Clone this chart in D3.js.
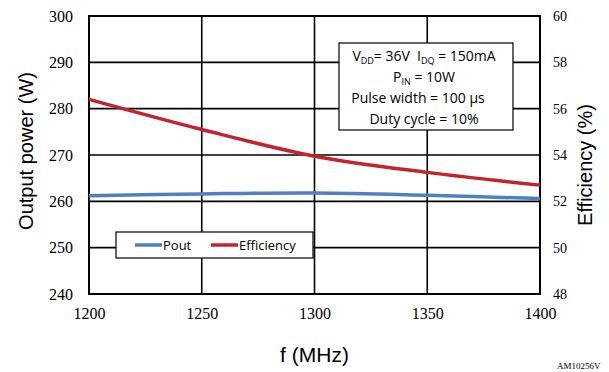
<!DOCTYPE html>
<html>
<head>
<meta charset="UTF-8">
<script src="https://d3js.org/d3.v7.min.js"></script>
<style>
  body { margin: 0; background: #fff; }
</style>
</head>
<body>
<div id="chart"></div>
<script>
// data
let freqs = [1200, 1250, 1300, 1350, 1400];
let pout = [261.2, 261.6, 261.8, 261.3, 260.6];
let efficiency = [56.4, 55.1, 53.95, 53.25, 52.7];
let leftTicks = [240, 250, 260, 270, 280, 290, 300];
let rightTicks = [48, 50, 52, 54, 56, 58, 60];
let xTicks = [1200, 1250, 1300, 1350, 1400];

let width = 609, height = 372;
let margin = { left: 89, right: 69, top: 16, bottom: 78 };

let svg = d3.select("#chart").append("svg")
  .attr("width", width)
  .attr("height", height);

let x = d3.scaleLinear().domain([1200, 1400]).range([margin.left, width - margin.right]);
let yL = d3.scaleLinear().domain([240, 300]).range([height - margin.bottom, margin.top]);
let yR = d3.scaleLinear().domain([48, 60]).range([height - margin.bottom, margin.top]);

// grid lines
svg.selectAll(".hgrid")
  .data(leftTicks)
  .join("line")
  .attr("x1", margin.left)
  .attr("x2", width - margin.right)
  .attr("y1", d => yL(d))
  .attr("y2", d => yL(d))
  .attr("stroke", "black")
  .attr("stroke-width", 1.6);

svg.selectAll(".vgrid")
  .data(xTicks)
  .join("line")
  .attr("x1", d => x(d))
  .attr("x2", d => x(d))
  .attr("y1", margin.top)
  .attr("y2", height - margin.bottom)
  .attr("stroke", "black")
  .attr("stroke-width", 1.6);

// plot border
svg.append("rect")
  .attr("x", margin.left)
  .attr("y", margin.top)
  .attr("width", width - margin.left - margin.right)
  .attr("height", height - margin.top - margin.bottom)
  .attr("fill", "none")
  .attr("stroke", "black")
  .attr("stroke-width", 2);

// axes (labels only)
let serif = "'Liberation Serif', 'Times New Roman', 'DejaVu Serif', serif";
let axL = svg.append("g")
  .attr("transform", `translate(${margin.left},0)`)
  .call(d3.axisLeft(yL).tickValues(leftTicks).tickSize(0).tickPadding(16));
let axR = svg.append("g")
  .attr("transform", `translate(${width - margin.right},0)`)
  .call(d3.axisRight(yR).tickValues(rightTicks).tickSize(0).tickPadding(13));
let axB = svg.append("g")
  .attr("transform", `translate(0,${height - margin.bottom})`)
  .call(d3.axisBottom(x).tickValues(xTicks).tickFormat(d3.format("d")).tickSize(0).tickPadding(14));

[axL, axR, axB].forEach(a => {
  a.select(".domain").remove();
  a.selectAll("text")
    .style("font-family", serif)
    .style("font-size", "16px")
    .attr("fill", "black");
});
axR.selectAll("text").style("font-size", "14px");

// series
let line = d3.line().curve(d3.curveCatmullRom.alpha(0.5));

svg.append("path")
  .attr("d", line(freqs.map((f, i) => [x(f), yL(pout[i])])))
  .attr("fill", "none")
  .attr("stroke", "#4f81bd")
  .attr("stroke-width", 3.5);

svg.append("path")
  .attr("d", line(freqs.map((f, i) => [x(f), yR(efficiency[i])])))
  .attr("fill", "none")
  .attr("stroke", "#c4232d")
  .attr("stroke-width", 3.5);

// axis titles
let titleFont = "'Liberation Sans', Arial, sans-serif";
svg.append("text")
  .attr("transform", "translate(33,151) rotate(-90)")
  .attr("text-anchor", "middle")
  .attr("font-family", titleFont)
  .attr("font-size", 20)
  .text("Output power (W)");

svg.append("text")
  .attr("transform", "translate(592,165) rotate(-90)")
  .attr("text-anchor", "middle")
  .attr("font-family", titleFont)
  .attr("font-size", 20)
  .text("Efficiency (%)");

svg.append("text")
  .attr("x", (margin.left + width - margin.right) / 2)
  .attr("y", 362)
  .attr("text-anchor", "middle")
  .attr("font-family", titleFont)
  .attr("font-size", 21)
  .text("f (MHz)");

svg.append("text")
  .attr("x", 557)
  .attr("y", 369)
  .style("font-family", serif)
  .style("font-size", "9px")
  .text("AM10256V");

// annotation box
let boxFont = "'Open Sans', 'Noto Sans', sans-serif";
let cx = 424;
let box = svg.append("g");
box.append("rect")
  .attr("x", 339).attr("y", 43).attr("width", 174).attr("height", 87)
  .attr("fill", "white").attr("stroke", "black").attr("stroke-width", 1.2);

let t1 = box.append("text").attr("x", cx).attr("y", 61)
  .attr("text-anchor", "middle").attr("font-family", boxFont).attr("font-size", 14);
t1.append("tspan").text("V");
t1.append("tspan").attr("font-size", 9).attr("dy", 3).text("DD");
t1.append("tspan").attr("dy", -3).text("= 36V\u00a0 I");
t1.append("tspan").attr("font-size", 9).attr("dy", 3).text("DQ");
t1.append("tspan").attr("dy", -3).text(" = 150mA");

let t2 = box.append("text").attr("x", cx).attr("y", 82)
  .attr("text-anchor", "middle").attr("font-family", boxFont).attr("font-size", 14);
t2.append("tspan").text("P");
t2.append("tspan").attr("font-size", 9).attr("dy", 3).text("IN");
t2.append("tspan").attr("dy", -3).text(" = 10W");

box.append("text").attr("x", cx - 6).attr("y", 103)
  .attr("text-anchor", "middle").attr("font-family", boxFont).attr("font-size", 14)
  .text("Pulse width = 100 µs");
box.append("text").attr("x", cx).attr("y", 124)
  .attr("text-anchor", "middle").attr("font-family", boxFont).attr("font-size", 14)
  .text("Duty cycle = 10%");

// legend
let legend = svg.append("g");
legend.append("rect")
  .attr("x", 116).attr("y", 232).attr("width", 197).attr("height", 26)
  .attr("fill", "white").attr("stroke", "black").attr("stroke-width", 1.2);
let legendItems = [
  { name: "Pout", color: "#4f81bd", x: 135 },
  { name: "Efficiency", color: "#c4232d", x: 211 }
];
legend.selectAll("line")
  .data(legendItems)
  .join("line")
  .attr("x1", d => d.x).attr("x2", d => d.x + 27)
  .attr("y1", 245).attr("y2", 245)
  .attr("stroke", d => d.color).attr("stroke-width", 3.5);
legend.selectAll("text")
  .data(legendItems)
  .join("text")
  .attr("x", d => d.x + 28).attr("y", 250)
  .attr("font-family", boxFont).attr("font-size", 13)
  .text(d => d.name);
</script>
</body>
</html>
